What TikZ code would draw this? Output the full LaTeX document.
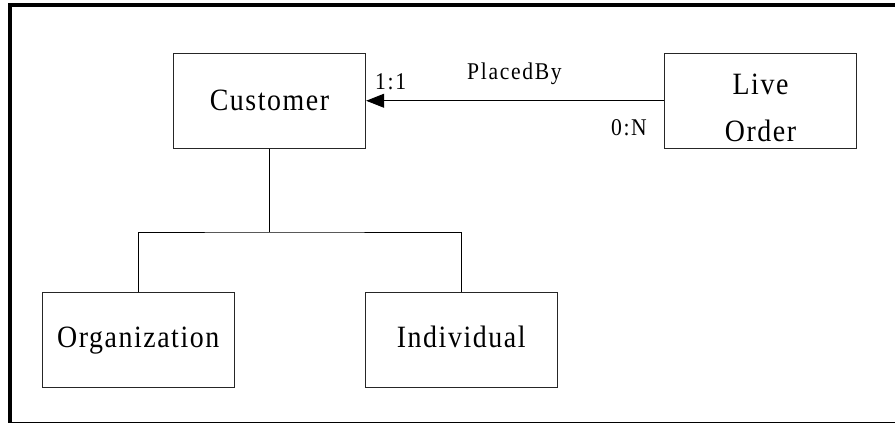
\documentclass[tikz,border=0pt]{standalone}
\usepackage{fontspec}
\setmainfont{Liberation Serif}
\newfontfamily\erfont[FakeStretch=0.9,LetterSpace=5]{Liberation Serif}
\newfontfamily\erlabfont[FakeStretch=0.9,LetterSpace=7]{Liberation Serif}
\usetikzlibrary{arrows.meta}
\begin{document}
\begin{tikzpicture}[x=1pt,y=-1pt,
  entity/.style={draw=black!85,line width=0.9pt,minimum width=192.5pt,minimum height=95pt,inner sep=0pt,
    font=\erfont\fontsize{31}{36}\selectfont},
  ename/.style={inner sep=0pt,align=center,font=\erfont\fontsize{31}{46.7}\selectfont},
  small/.style={inner sep=0pt,font=\erlabfont\fontsize{24}{28}\selectfont},
  conn/.style={draw=black,line width=0.9pt}]
\useasboundingbox (0,0) rectangle (895,423);
\clip (0,0) rectangle (895,423);
\draw[line width=4pt] (10.3,5) rectangle (910,423.5);
% entities
\node[entity] (cust) at (269.5,100.75) {Customer};
\node[entity] (live) at (760.5,100.75) {};
\node[ename] (livet) at (760.5,108.2) {Live\\Order};
\node[entity,text depth=6.5pt,text height=20.5pt] (org) at (138.2,340) {Organization};
\node[entity,text depth=6.5pt,text height=20.5pt] (ind) at (461.2,340) {Individual};
% relationship
\draw[conn,-{Triangle[length=18pt,width=14pt]}] (live.west) -- (cust.east);
\node[small,anchor=base] (rel) at (514.5,79.3) {PlacedBy};
\node[small,anchor=base west] (c1) at (375,89) {1:1};
\node[small,anchor=base east] (c2) at (647,135) {0:N};
% subtype tree
\coordinate (j) at (269.5,232);
\draw[conn] (cust.south) -- (j);
\draw[conn] (org.north) |- (j) -| (ind.north);
\end{tikzpicture}
\end{document}
